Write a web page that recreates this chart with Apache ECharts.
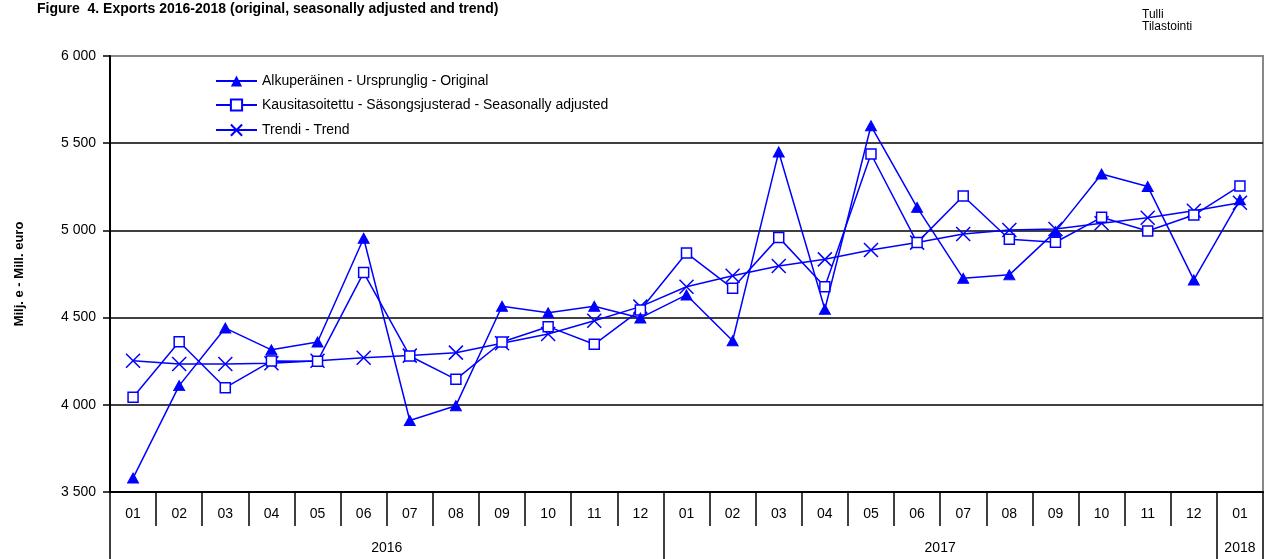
<!DOCTYPE html>
<html>
<head>
<meta charset="utf-8">
<script src="https://cdn.jsdelivr.net/npm/echarts@6/dist/echarts.min.js"></script>
<style>
html,body{margin:0;padding:0;background:#fff;}
#chart{width:1264px;height:559px;}
</style>
</head>
<body>
<div id="chart"></div>
<script>
// ---- data ----
const months = ['01','02','03','04','05','06','07','08','09','10','11','12',
                '01','02','03','04','05','06','07','08','09','10','11','12','01'];
const years = ['2016','2017','2018'];
const yearMonths = [12, 12, 1];
const original = [3580, 4110, 4440, 4315, 4360, 4955, 3910, 3995, 4565, 4528, 4565, 4498,
                  4630, 4367, 5450, 4548, 5600, 5132, 4725, 4745, 4993, 5323, 5252, 4716, 5175];
const seasonal = [4043, 4362, 4098, 4251, 4250, 4758, 4280, 4146, 4360, 4448, 4347, 4544,
                  4870, 4668, 4960, 4677, 5438, 4930, 5197, 4949, 4932, 5075, 4997, 5088, 5255];
const trend    = [4253, 4234, 4234, 4238, 4253, 4270, 4282, 4299, 4353, 4406, 4482, 4563,
                  4677, 4740, 4796, 4834, 4888, 4930, 4979, 5002, 5008, 5041, 5073, 5113, 5159];
const seriesNames = ['Alkuperäinen - Ursprunglig - Original',
                     'Kausitasoitettu - Säsongsjusterad - Seasonally adjusted',
                     'Trendi - Trend'];
const yMin = 3500, yMax = 6000, yStep = 500;

// year boundaries / centres derived from spans
const yearBounds = [0];
yearMonths.forEach(n => yearBounds.push(yearBounds[yearBounds.length - 1] + n));
const yearCenters = yearMonths.map((n, i) => yearBounds[i] + n / 2);

// grid line colours: black, except the top one (plot border, grey)
const nLines = Math.round((yMax - yMin) / yStep) + 1;
const splitColors = Array.from({length: nLines}, (_, i) => i === nLines - 1 ? '#888' : '#000');

const FONT = 'Liberation Sans, Arial, sans-serif';
const BLUE = '#0000FF';

const chart = echarts.init(document.getElementById('chart'), null, {renderer: 'canvas'});
chart.setOption({
  animation: false,
  backgroundColor: '#fff',
  textStyle: {fontFamily: FONT, color: '#000'},
  title: [
    {text: 'Figure  4. Exports 2016-2018 (original, seasonally adjusted and trend)',
     left: 37, top: 2, padding: 0,
     textStyle: {fontFamily: FONT, fontSize: 14, fontWeight: 'bold', color: '#000'}},
    {text: 'Tulli\nTilastointi', left: 1142, top: 9, padding: 0,
     textStyle: {fontFamily: FONT, fontSize: 12, fontWeight: 'normal', color: '#000', lineHeight: 12}}
  ],
  legend: {
    orient: 'vertical', left: 215, top: 74, itemGap: 10, padding: 0,
    itemWidth: 41, itemHeight: 14,
    textStyle: {fontFamily: FONT, fontSize: 14, color: '#000'},
    data: seriesNames
  },
  grid: {left: 110, right: 1, top: 56, bottom: 67, show: true,
         borderColor: '#888', borderWidth: 2, backgroundColor: 'transparent'},
  xAxis: [
    {type: 'category', data: months, boundaryGap: true, position: 'bottom', offset: 0,
     axisLine: {lineStyle: {color: '#000', width: 2}},
     axisTick: {show: true, interval: 0, length: 34, lineStyle: {color: '#000', width: 1.5}},
     axisLabel: {interval: 0, margin: 15, fontSize: 14, color: '#000', fontFamily: FONT},
     splitLine: {show: false}},
    {type: 'value', min: 0, max: yearBounds[yearBounds.length - 1], position: 'bottom', offset: 0,
     axisLine: {show: false},
     axisTick: {show: true, length: 67, customValues: yearBounds,
                lineStyle: {color: '#000', width: 1.5}},
     axisLabel: {show: true, margin: 49, fontSize: 14, color: '#000', fontFamily: FONT,
                 customValues: yearCenters,
                 formatter: v => years[yearCenters.indexOf(v)]},
     splitLine: {show: false}}
  ],
  yAxis: {
    type: 'value', min: yMin, max: yMax, interval: yStep,
    name: 'Milj. e - Mill. euro', nameLocation: 'middle', nameGap: 84, nameRotate: 90,
    nameTextStyle: {fontFamily: FONT, fontSize: 13, fontWeight: 'bold', color: '#000'},
    axisLine: {show: true, lineStyle: {color: '#000', width: 2}},
    axisTick: {show: true, length: 7, lineStyle: {color: '#000', width: 1.5}},
    axisLabel: {margin: 14, fontSize: 14, color: '#000', fontFamily: FONT,
                formatter: v => String(v).replace(/\B(?=(\d{3})+(?!\d))/g, ' ')},
    splitLine: {show: true, lineStyle: {color: splitColors, width: 1.5}}
  },
  series: [
    {name: seriesNames[0], type: 'line', data: original, xAxisIndex: 0,
     symbol: 'triangle', symbolSize: [11, 10],
     lineStyle: {color: BLUE, width: 1.5}, itemStyle: {color: BLUE, borderColor: BLUE}, z: 4},
    {name: seriesNames[1], type: 'line', data: seasonal, xAxisIndex: 0,
     symbol: 'rect', symbolSize: 10,
     lineStyle: {color: BLUE, width: 1.5}, itemStyle: {color: '#fff', borderColor: BLUE, borderWidth: 1.5}, z: 3},
    {name: seriesNames[2], type: 'line', data: trend, xAxisIndex: 0,
     symbol: 'path://M0,0L10,10M10,0L0,10', symbolSize: 14, showAllSymbol: true,
     lineStyle: {color: BLUE, width: 1.5}, itemStyle: {color: 'none', borderColor: BLUE, borderWidth: 1.5}, z: 2}
  ]
});
</script>
</body>
</html>
